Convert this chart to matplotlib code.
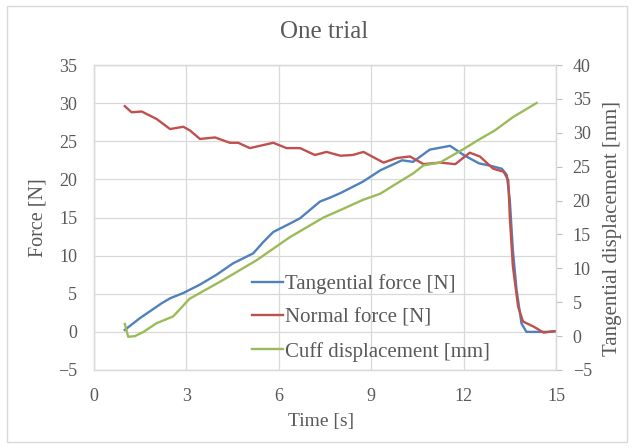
import matplotlib.pyplot as plt
from matplotlib.patches import Rectangle

plt.rcParams["font.family"] = ["Liberation Serif", "DejaVu Serif"]

# 切向力 (藍)
t_tan = [1.0, 1.49, 2.2, 2.47, 2.9, 3.44, 3.98, 4.52, 5.17, 5.5, 5.82, 6.36, 6.69,
         7.34, 7.66, 8.0, 8.73, 9.3, 10.0, 10.36, 10.9, 11.56, 12.0, 12.5, 12.86,
         13.24, 13.4, 13.5, 13.6, 13.72, 13.88, 14.04, 14.74, 15.0]
f_tan = [0.26, 1.8, 3.76, 4.4, 5.1, 6.2, 7.5, 9.0, 10.3, 11.8, 13.1, 14.2, 14.9,
         17.1, 17.6, 18.2, 19.7, 21.2, 22.5, 22.3, 23.9, 24.4, 23.2, 22.1, 21.8,
         21.4, 20.6, 17.3, 10.7, 5.5, 1.1, 0.0, 0.0, 0.1]

# 法向力 (紅)
t_norm = [1.0, 1.22, 1.55, 2.04, 2.47, 2.9, 3.12, 3.44, 3.93, 4.41, 4.68, 5.06,
          5.82, 6.25, 6.69, 7.17, 7.55, 8.0, 8.4, 8.75, 9.4, 9.83, 10.26, 10.7,
          11.23, 11.73, 12.2, 12.53, 12.96, 13.3, 13.45, 13.5, 13.6, 13.77, 13.93,
          14.27, 14.6, 14.76, 15.0]
f_norm = [29.6, 28.8, 28.9, 27.9, 26.6, 26.9, 26.4, 25.3, 25.5, 24.8, 24.8, 24.1,
          24.8, 24.1, 24.1, 23.2, 23.6, 23.1, 23.2, 23.6, 22.2, 22.8, 23.0, 22.0,
          22.2, 22.0, 23.5, 23.0, 21.4, 21.0, 19.9, 15.1, 8.6, 3.3, 1.35,
          0.7, -0.1, 0.0, 0.1]

# 位移 (綠, 右軸)
t_disp = [1.0, 1.11, 1.33, 1.6, 2.03, 2.57, 3.1, 4.2, 5.28, 6.36, 7.45, 8.0, 8.73,
          9.29, 9.82, 10.36, 10.7, 11.23, 11.5, 12.0, 12.5, 13.0, 13.6, 14.37]
d_disp = [1.8, -0.1, 0.0, 0.6, 1.9, 2.9, 5.5, 8.3, 11.2, 14.6, 17.5, 18.6, 20.1,
          21.0, 22.5, 24.0, 25.2, 25.6, 26.3, 27.6, 29.0, 30.3, 32.3, 34.4]

labels = ["Tangential force [N]", "Normal force [N]", "Cuff displacement [mm]"]
x_ticks = [0, 3, 6, 9, 12, 15]

txt = "#595959"
grid = "#D9D9D9"

fig = plt.figure(figsize=(6.34, 4.48), dpi=100)
ax = fig.add_axes([94/634, 1-370/448, 462/634, 305/448])
ax2 = ax.twinx()

l1, = ax.plot(t_tan, f_tan, color="#4F81BD", lw=1.7, label=labels[0])
l2, = ax.plot(t_norm, f_norm, color="#C0504D", lw=1.7, label=labels[1])
l3, = ax2.plot(t_disp, d_disp, color="#9BBB59", lw=1.7, label=labels[2])

ax.set_xlim(0, 15)
ax.set_ylim(-5, 35)
ax2.set_ylim(-5, 40)
ax.set_xticks(x_ticks)
ax.set_yticks(range(-5, 36, 5))
ax2.set_yticks(range(-5, 41, 5))
ax.grid(True, color=grid, lw=0.9)
ax.set_axisbelow(True)

for a in (ax, ax2):
    for s in a.spines.values():
        s.set_color(grid)
        s.set_linewidth(0.9)

ax.tick_params(axis="both", length=0, labelsize=13, labelcolor=txt)
ax.tick_params(axis="y", pad=12)
ax.tick_params(axis="x", pad=13)
ax2.tick_params(axis="y", length=4, color="#BFBFBF", direction="out",
                labelsize=13, labelcolor=txt, pad=8)

ax.set_xlabel("Time [s]", fontsize=14, color=txt)
ax.xaxis.set_label_coords((321-94)/462, -(413-370)/305)
ax.set_ylabel("Force [N]", fontsize=14.5, color=txt, va="center")
ax.yaxis.set_label_coords(-(94-38)/462, 0.5)
ax2.set_ylabel("Tangential displacement [mm]", fontsize=15, color=txt,
               rotation=90, va="center")
ax2.yaxis.set_label_coords(1+(612-556)/462, (370-228)/305)

fig.text(324/634, 1-32/448, "One trial", ha="center", va="center",
         fontsize=18, color=txt)

leg = ax.legend(handles=[l1, l2, l3], loc="upper left",
                bbox_to_anchor=(0.342, 0.315), frameon=False, fontsize=15,
                handlelength=1.5, handletextpad=0.1, labelspacing=0.68,
                borderpad=0, borderaxespad=0)
for t in leg.get_texts():
    t.set_color(txt)

fig.patches.append(Rectangle((7/634, 6/448), 620/634, 436/448,
                             transform=fig.transFigure, fill=False,
                             edgecolor=grid, lw=1.0))

fig.savefig("out.png", dpi=100)
